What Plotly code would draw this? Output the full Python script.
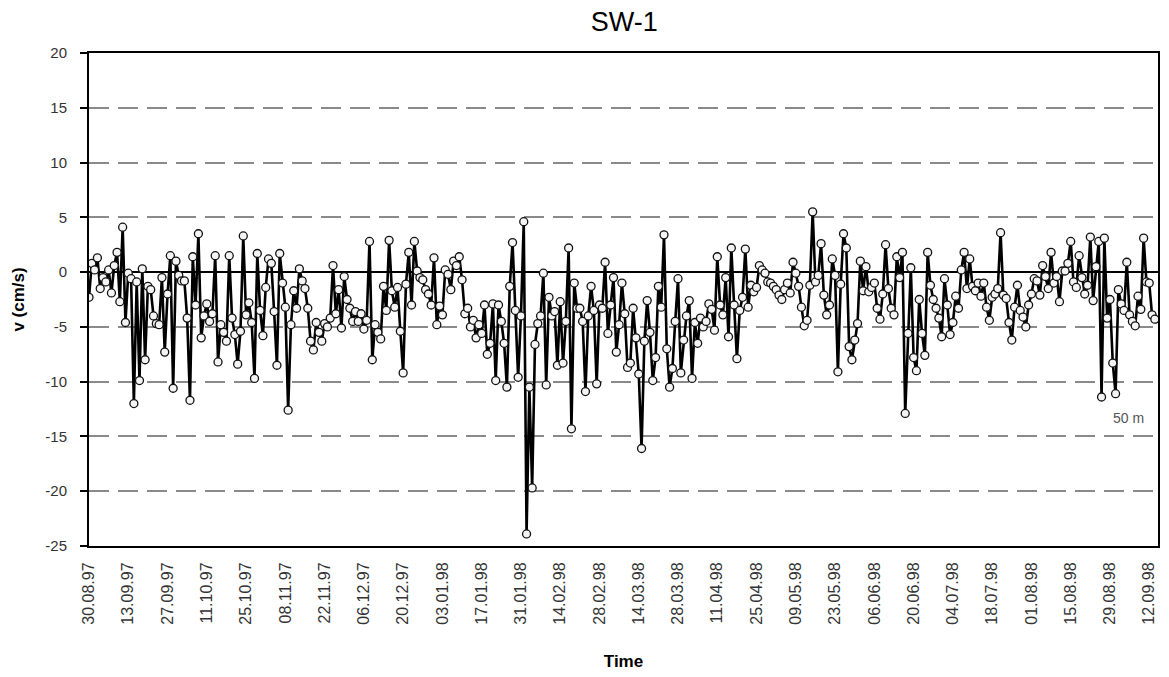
import pandas as pd
import plotly.graph_objects as go

# Daily current velocity at 50 m, station SW-1
START_DATE = "1997-08-30"
velocity = [
    -2.3, 0.8, 0.2, 1.3, -1.5, -0.5, -0.9, 0.2, -1.9, 0.6,
    1.8, -2.7, 4.1, -4.6, -0.1, -0.6, -12.0, -0.9, -9.9, 0.3,
    -8.0, -1.3, -1.6, -4.0, -4.7, -4.8, -0.5, -7.3, -2.0, 1.5,
    -10.6, 1.0, -0.3, -0.8, -0.8, -4.2, -11.7, 1.4, -3.0, 3.5,
    -6.0, -4.0, -2.9, -4.5, -3.8, 1.5, -8.2, -4.8, -5.5, -6.3,
    1.5, -4.2, -5.7, -8.4, -5.4, 3.3, -3.9, -2.8, -4.6, -9.7,
    1.7, -3.5, -5.8, -1.4, 1.2, 0.8, -3.6, -8.5, 1.7, -1.0,
    -3.2, -12.6, -4.8, -1.7, -3.3, 0.3, -0.8, -1.5, -3.3, -6.3,
    -7.1, -4.6, -5.5, -6.3, -4.7, -5.0, -4.2, 0.6, -3.8, -1.6,
    -5.1, -0.4, -2.5, -3.3, -4.5, -3.6, -4.5, -3.8, -5.2, -4.4,
    2.8, -8.0, -4.8, -5.5, -6.1, -1.3, -3.5, 2.9, -1.7, -3.2,
    -1.4, -5.4, -9.2, -1.1, 1.8, -3.0, 2.8, 0.1, -0.5, -0.7,
    -1.6, -2.0, -3.0, 1.3, -4.8, -3.1, -3.9, 0.2, -0.2, -1.6,
    1.0, 0.6, 1.4, -0.7, -3.8, -3.3, -5.0, -4.4, -6.0, -4.8,
    -5.6, -3.0, -7.5, -6.5, -2.9, -9.9, -3.0, -4.5, -6.5, -10.5,
    -1.3, 2.7, -3.5, -9.6, -4.0, 4.6, -23.9, -10.5, -19.7, -6.6,
    -4.7, -4.0, -0.1, -10.3, -2.3, -4.0, -3.6, -8.5, -2.7, -8.3,
    -4.5, 2.2, -14.3, -1.0, -3.3, -3.3, -4.5, -10.9, -4.0, -1.3,
    -3.5, -10.2, -3.0, -3.3, 0.9, -5.6, -3.0, -0.5, -7.3, -4.8,
    -1.0, -3.8, -8.7, -8.3, -3.3, -6.0, -9.3, -16.1, -6.3, -2.6,
    -5.5, -9.9, -7.8, -1.3, -3.2, 3.4, -7.0, -10.5, -8.8, -4.5,
    -0.6, -9.2, -6.2, -4.0, -2.6, -9.7, -4.6, -6.5, -4.2, -5.0,
    -4.5, -2.9, -3.4, -5.3, 1.4, -3.0, -3.9, -0.5, -5.9, 2.2,
    -3.0, -7.9, -3.5, -2.3, 2.1, -3.2, -1.2, -1.8, -1.4, 0.6,
    0.2, -0.1, -0.9, -1.0, -1.3, -1.6, -2.1, -2.5, -1.6, -1.0,
    -1.9, 0.9, -0.1, -1.3, -3.2, -4.9, -4.4, -1.2, 5.5, -0.9,
    -0.3, 2.6, -2.1, -3.9, -3.0, 1.2, -0.3, -9.1, -1.1, 3.5,
    2.2, -6.8, -8.0, -6.2, -4.7, 1.0, -1.7, 0.5, -1.8, -1.4,
    -1.0, -3.3, -4.3, -2.0, 2.5, -1.5, -3.3, -3.9, 1.4, -0.5,
    1.8, -12.9, -5.6, 0.4, -7.8, -9.0, -2.5, -5.6, -7.6, 1.8,
    -1.2, -2.5, -3.3, -4.2, -5.9, -0.6, -3.0, -5.7, -4.6, -2.2,
    -3.3, 0.2, 1.8, -1.5, 1.2, -1.3, -1.7, -1.0, -2.2, -1.0,
    -3.2, -4.4, -2.3, -2.0, -1.5, 3.6, -2.1, -2.4, -4.6, -6.2,
    -3.2, -1.2, -3.5, -4.1, -5.0, -3.0, -2.0, -0.6, -0.8, -2.1,
    0.6, -0.4, -1.5, 1.8, -1.0, -0.4, -2.7, 0.1, 0.1, 0.8,
    2.8, -0.9, -1.4, 1.5, -0.5, -2.0, -1.2, 3.2, -2.6, 0.5,
    2.8, -11.4, 3.1, -4.2, -2.5, -8.3, -11.1, -1.6, -2.9, -3.5,
    0.9, -3.9, -4.5, -4.9, -2.2, -3.4, 3.1, -0.9, -1.0, -3.9,
    -4.3,
]

y_ticks = [20, 15, 10, 5, 0, -5, -10, -15, -20, -25]
y_tick_labels = ["20", "15", "10", "5", "0", "-5", "-10", "-15", "-20", "-25"]

dates = pd.date_range(START_DATE, periods=len(velocity), freq="D")

FONT = "Arial, Liberation Sans, sans-serif"
DASH = "20px,9px"

fig = go.Figure()
fig.add_trace(go.Scatter(
    x=dates, y=velocity, mode="lines+markers",
    line=dict(color="black", width=2.6),
    marker=dict(symbol="circle", size=8, color="#f4f4f4",
                line=dict(color="#111", width=1.3)),
    showlegend=False,
))

fig.update_layout(
    width=1169, height=677,
    margin=dict(l=89, r=9, t=53, b=131),
    paper_bgcolor="white", plot_bgcolor="white",
    font=dict(family=FONT, color="#333"),
    title=dict(text="SW-1", x=0.534, xanchor="center", y=1 - 22 / 677,
               yanchor="middle", yref="container",
               font=dict(family=FONT, size=27, color="black")),
    shapes=[dict(type="line", xref="paper", x0=0, x1=1, yref="y", y0=-5, y1=-5,
                 line=dict(color="black", width=1.5, dash=DASH), layer="below")],
    annotations=[dict(text="50 m", xref="paper", x=0.972, xanchor="center",
                      yref="y", y=-13.3, showarrow=False,
                      font=dict(family=FONT, size=14, color="#555"))],
)

fig.update_xaxes(
    type="date",
    range=["1997-08-30", "1998-09-15 03:00"],
    tick0=START_DATE, dtick=14 * 86400000, tickformat="%d.%m.%y",
    tickangle=-90, tickfont=dict(family=FONT, size=16, color="#333"),
    ticklabelstandoff=8,
    showgrid=False, showline=True, linecolor="black", linewidth=2, mirror=True,
    ticks="", zeroline=False,
    title=dict(text="<b>Time</b>", font=dict(family=FONT, size=17, color="black"),
               standoff=31),
)

fig.update_yaxes(
    range=[-25, 20], tickvals=y_ticks, ticktext=y_tick_labels,
    tickfont=dict(family=FONT, size=15, color="#333"),
    ticks="outside", ticklen=7, tickcolor="black", tickwidth=1.5,
    ticklabelstandoff=10,
    showline=True, linecolor="black", linewidth=2, mirror=True,
    showgrid=True, gridcolor="#8a8a8a", gridwidth=2, griddash=DASH,
    zeroline=True, zerolinecolor="black", zerolinewidth=2,
    title=dict(text="<b>v (cm/s)</b>", font=dict(family=FONT, size=17, color="black"),
               standoff=16),
)

fig.write_html("out.html")
